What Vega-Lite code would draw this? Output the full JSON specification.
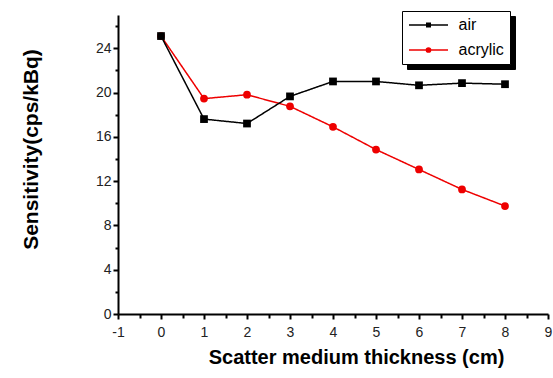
{
  "$schema": "https://vega.github.io/schema/vega-lite/v6.json",
  "width": 430,
  "height": 299,
  "autosize": "none",
  "padding": {"left": 118, "top": 15, "right": 5, "bottom": 64},
  "background": "white",
  "config": {"view": {"stroke": null}, "font": "Liberation Sans"},
  "data": {
    "values": [
      {"medium": "acrylic", "thickness": 0, "sensitivity": 25.1},
      {"medium": "acrylic", "thickness": 1, "sensitivity": 19.45},
      {"medium": "acrylic", "thickness": 2, "sensitivity": 19.8},
      {"medium": "acrylic", "thickness": 3, "sensitivity": 18.75},
      {"medium": "acrylic", "thickness": 4, "sensitivity": 16.9},
      {"medium": "acrylic", "thickness": 5, "sensitivity": 14.85},
      {"medium": "acrylic", "thickness": 6, "sensitivity": 13.05},
      {"medium": "acrylic", "thickness": 7, "sensitivity": 11.25},
      {"medium": "acrylic", "thickness": 8, "sensitivity": 9.75},
      {"medium": "air", "thickness": 0, "sensitivity": 25.1},
      {"medium": "air", "thickness": 1, "sensitivity": 17.6},
      {"medium": "air", "thickness": 2, "sensitivity": 17.2},
      {"medium": "air", "thickness": 3, "sensitivity": 19.65},
      {"medium": "air", "thickness": 4, "sensitivity": 21.0},
      {"medium": "air", "thickness": 5, "sensitivity": 21.0},
      {"medium": "air", "thickness": 6, "sensitivity": 20.65},
      {"medium": "air", "thickness": 7, "sensitivity": 20.85},
      {"medium": "air", "thickness": 8, "sensitivity": 20.75}
    ]
  },
  "encoding": {
    "x": {
      "field": "thickness",
      "type": "quantitative",
      "scale": {"domain": [-1, 9], "nice": false, "zero": false},
      "axis": {
        "title": "Scatter medium thickness (cm)",
        "titleFont": "Liberation Sans",
        "titleFontSize": 20,
        "titleFontWeight": "bold",
        "titleColor": "black",
        "titleX": 238,
        "titleY": 43,
        "titleBaseline": "middle",
        "titleAlign": "center",
        "grid": false,
        "domainColor": "black",
        "domainWidth": 2,
        "tickColor": "black",
        "tickWidth": 2,
        "tickSize": {"condition": {"test": "datum.value % 1 === 0", "value": 5}, "value": 4},
        "values": [-1, -0.5, 0, 0.5, 1, 1.5, 2, 2.5, 3, 3.5, 4, 4.5, 5, 5.5, 6, 6.5, 7, 7.5, 8, 8.5, 9],
        "labelExpr": "datum.value % 1 === 0 ? '' + datum.value : ''",
        "labelFontSize": 14,
        "labelColor": "#222",
        "labelPadding": 6,
        "labelFlush": false,
        "labelOverlap": false
      }
    },
    "y": {
      "field": "sensitivity",
      "type": "quantitative",
      "scale": {"domain": [0, 27], "nice": false},
      "axis": {
        "title": "Sensitivity(cps/kBq)",
        "titleFont": "Liberation Sans",
        "titleFontSize": 21,
        "titleFontWeight": "bold",
        "titleColor": "black",
        "titleX": -87,
        "titleY": 134,
        "titleBaseline": "middle",
        "titleAlign": "center",
        "grid": false,
        "domainColor": "black",
        "domainWidth": 2,
        "tickColor": "black",
        "tickWidth": 2,
        "tickSize": {"condition": {"test": "datum.value % 4 === 0", "value": 5}, "value": 3},
        "values": [0, 2, 4, 6, 8, 10, 12, 14, 16, 18, 20, 22, 24, 26],
        "labelExpr": "datum.value % 4 === 0 ? '' + datum.value : ''",
        "labelFontSize": 14,
        "labelColor": "#222",
        "labelPadding": 2,
        "labelOverlap": false
      }
    },
    "color": {
      "field": "medium",
      "type": "nominal",
      "scale": {"domain": ["air", "acrylic"], "range": ["black", "#ee0000"]},
      "legend": {
        "orient": "none",
        "legendX": 284,
        "legendY": -4,
        "zindex": 2,
        "title": null,
        "strokeColor": "black",
        "fillColor": "white",
        "padding": 6,
        "rowPadding": 9,
        "symbolSize": 100,
        "symbolOffset": 12.5,
        "labelOffset": 22,
        "labelFontSize": 16,
        "labelColor": "black",
        "labelLimit": 100,
        "symbolType": "M-3.9,0H3.9M-0.35,-0.35H0.35V0.35H-0.35Z",
        "symbolStrokeWidth": 1.5,
        "encode": {
          "symbols": {
            "enter": {
              "shape": {"signal": "datum.value === 'air' ? 'M-3.9,0H3.9M-0.35,-0.35H0.35V0.35H-0.35Z' : 'M-3.9,0H3.9M0.42,0A0.42,0.42,0,1,1,-0.42,0A0.42,0.42,0,1,1,0.42,0Z'"}
            },
            "update": {
              "shape": {"signal": "datum.value === 'air' ? 'M-3.9,0H3.9M-0.35,-0.35H0.35V0.35H-0.35Z' : 'M-3.9,0H3.9M0.42,0A0.42,0.42,0,1,1,-0.42,0A0.42,0.42,0,1,1,0.42,0Z'"},
              "fill": {"scale": "color", "field": "value"},
              "stroke": {"scale": "color", "field": "value"},
              "strokeWidth": {"value": 1.5},
              "opacity": {"value": 1}
            }
          }
        }
      }
    }
  },
  "layer": [
    {
      "mark": {"type": "line", "strokeWidth": 1.5},
      "encoding": {
        "strokeDash": {
          "field": "medium",
          "type": "nominal",
          "scale": {"domain": ["acrylic", "air"], "range": [[1, 0], [1, 0]]},
          "legend": {
            "orient": "none",
            "legendX": 289,
            "legendY": 1,
            "zindex": 1,
            "title": null,
            "strokeColor": "black",
            "fillColor": "black",
            "padding": 6,
            "rowPadding": 9,
            "symbolSize": 100,
            "symbolOffset": 12.5,
            "labelOffset": 67,
            "labelFontSize": 16,
            "labelExpr": "''",
            "symbolType": "M-3.9,0H3.9M-0.35,-0.35H0.35V0.35H-0.35Z",
            "symbolStrokeWidth": 1.5,
            "symbolStrokeColor": "black",
            "symbolFillColor": "black"
          }
        }
      }
    },
    {
      "mark": {"type": "point", "filled": true, "opacity": 1, "size": 60},
      "encoding": {
        "shape": {"condition": {"test": "datum.medium === 'air'", "value": "square"}, "value": "circle"}
      }
    }
  ]
}
